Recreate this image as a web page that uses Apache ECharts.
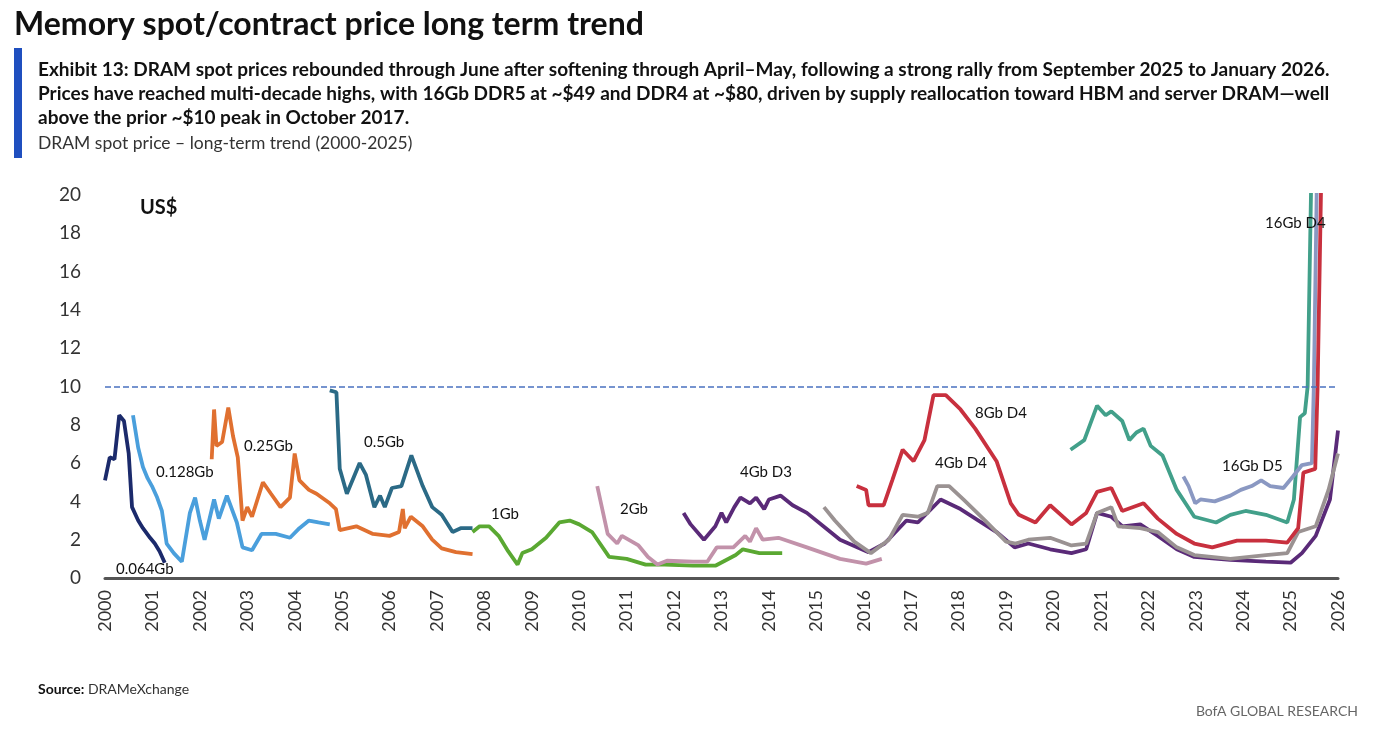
<!DOCTYPE html>
<html>
<head>
<meta charset="utf-8">
<script src="https://cdn.jsdelivr.net/npm/echarts@6/dist/echarts.min.js"></script>
<style>
  html, body { margin: 0; padding: 0; background: #fff; }
  #chart { width: 1376px; height: 742px; }
</style>
</head>
<body>
<div id="chart"></div>
<script>
// ---- data: [year, US$] ----
const gb0064 = [[2000.0,5.1],[2000.1,6.3],[2000.2,6.2],[2000.3,8.5],[2000.4,8.2],[2000.5,6.5],[2000.57,3.7],[2000.7,3.0],[2000.8,2.6],[2000.95,2.1],[2001.05,1.8],[2001.15,1.4],[2001.26,0.8]];
const gb0128 = [[2000.59,8.5],[2000.7,6.8],[2000.8,5.8],[2000.9,5.2],[2000.99,4.8],[2001.1,4.2],[2001.2,3.5],[2001.3,1.8],[2001.45,1.3],[2001.62,0.85],[2001.79,3.4],[2001.9,4.2],[2002.0,3.0],[2002.1,2.0],[2002.3,4.1],[2002.4,3.1],[2002.57,4.3],[2002.78,2.9],[2002.9,1.6],[2003.1,1.45],[2003.3,2.3],[2003.6,2.3],[2003.9,2.1],[2004.1,2.6],[2004.3,3.0],[2004.5,2.9],[2004.74,2.8]];
const gb025 = [[2002.25,6.2],[2002.3,8.8],[2002.35,6.9],[2002.47,7.1],[2002.6,8.9],[2002.7,7.4],[2002.8,6.3],[2002.9,3.0],[2003.0,3.7],[2003.1,3.2],[2003.33,5.0],[2003.5,4.4],[2003.7,3.7],[2003.9,4.2],[2004.0,6.5],[2004.1,5.1],[2004.3,4.6],[2004.46,4.4],[2004.74,3.9],[2004.87,3.6],[2004.95,2.5],[2005.3,2.7],[2005.65,2.3],[2006.0,2.2],[2006.2,2.4],[2006.28,3.6],[2006.32,2.6],[2006.45,3.2],[2006.7,2.7],[2006.9,2.0],[2007.1,1.55],[2007.4,1.35],[2007.75,1.25]];
const gb05 = [[2004.74,9.8],[2004.88,9.7],[2004.95,5.7],[2005.1,4.4],[2005.37,6.0],[2005.5,5.4],[2005.68,3.7],[2005.8,4.3],[2005.9,3.7],[2006.05,4.7],[2006.25,4.8],[2006.46,6.4],[2006.7,4.8],[2006.9,3.7],[2007.1,3.3],[2007.33,2.4],[2007.5,2.6],[2007.75,2.6]];
const gb1 = [[2007.75,2.4],[2007.9,2.7],[2008.1,2.7],[2008.3,2.2],[2008.5,1.4],[2008.7,0.7],[2008.8,1.3],[2009.0,1.5],[2009.3,2.1],[2009.58,2.9],[2009.8,3.0],[2010.0,2.8],[2010.27,2.4],[2010.63,1.1],[2011.0,1.0],[2011.4,0.7],[2011.8,0.7],[2012.4,0.65],[2012.88,0.65],[2013.3,1.2],[2013.45,1.5],[2013.8,1.3],[2014.28,1.3]];
const gb2 = [[2010.38,4.8],[2010.6,2.3],[2010.8,1.8],[2010.9,2.2],[2011.25,1.7],[2011.45,1.1],[2011.65,0.7],[2011.85,0.9],[2012.4,0.85],[2012.7,0.85],[2012.9,1.6],[2013.25,1.6],[2013.5,2.2],[2013.6,1.9],[2013.73,2.6],[2013.87,2.0],[2014.2,2.1],[2014.8,1.6],[2015.5,1.0],[2016.05,0.75],[2016.38,1.0]];
const gb4d3 = [[2012.2,3.4],[2012.35,2.8],[2012.63,2.0],[2012.87,2.7],[2013.0,3.4],[2013.1,2.9],[2013.27,3.7],[2013.4,4.2],[2013.6,3.9],[2013.73,4.2],[2013.9,3.6],[2014.0,4.1],[2014.25,4.3],[2014.5,3.8],[2014.8,3.4],[2015.2,2.6],[2015.5,2.0],[2016.1,1.35],[2016.44,1.8],[2016.9,3.0],[2017.14,2.9],[2017.62,4.1],[2018.04,3.6],[2018.42,3.0],[2018.8,2.4],[2019.18,1.6],[2019.47,1.8],[2019.93,1.5],[2020.38,1.3],[2020.69,1.5],[2020.92,3.4],[2021.22,3.2],[2021.45,2.7],[2021.83,2.8],[2022.2,2.2],[2022.6,1.5],[2022.97,1.1],[2023.73,0.95],[2024.48,0.85],[2025.0,0.8],[2025.24,1.3],[2025.53,2.2],[2025.83,4.1],[2026.0,7.7]];
const gb4d4 = [[2015.16,3.7],[2015.39,3.0],[2015.8,1.9],[2016.15,1.3],[2016.53,2.0],[2016.82,3.3],[2017.14,3.2],[2017.35,3.4],[2017.55,4.8],[2017.8,4.8],[2018.1,4.1],[2018.56,3.0],[2019.0,1.9],[2019.2,1.8],[2019.47,2.0],[2019.93,2.1],[2020.38,1.7],[2020.69,1.8],[2020.92,3.4],[2021.22,3.7],[2021.37,2.7],[2021.83,2.6],[2022.2,2.4],[2022.6,1.6],[2022.97,1.2],[2023.73,1.0],[2024.48,1.2],[2024.93,1.3],[2025.16,2.4],[2025.53,2.7],[2025.8,4.6],[2026.0,6.5]];
const gb8d4 = [[2015.85,4.8],[2016.05,4.6],[2016.1,3.8],[2016.42,3.8],[2016.6,5.1],[2016.82,6.7],[2017.05,6.1],[2017.28,7.2],[2017.47,9.55],[2017.73,9.55],[2018.04,8.8],[2018.35,7.8],[2018.8,6.1],[2019.1,3.9],[2019.27,3.3],[2019.62,2.9],[2019.93,3.8],[2020.38,2.8],[2020.69,3.4],[2020.92,4.5],[2021.22,4.7],[2021.45,3.5],[2021.9,3.9],[2022.2,3.1],[2022.6,2.3],[2022.97,1.8],[2023.35,1.6],[2023.87,1.95],[2024.48,1.95],[2024.93,1.85],[2025.16,2.6],[2025.27,5.5],[2025.52,5.7],[2025.57,10],[2025.64,20],[2025.7,30]];
const gb16d4 = [[2020.36,6.7],[2020.65,7.2],[2020.92,9.0],[2021.1,8.5],[2021.22,8.7],[2021.45,8.2],[2021.6,7.2],[2021.75,7.6],[2021.9,7.8],[2022.05,6.9],[2022.3,6.4],[2022.6,4.6],[2022.97,3.2],[2023.43,2.9],[2023.73,3.3],[2024.05,3.5],[2024.48,3.3],[2024.93,2.9],[2025.07,4.1],[2025.2,8.4],[2025.3,8.6],[2025.36,10],[2025.43,20],[2025.5,30]];
const gb16d5 = [[2022.74,5.3],[2022.85,4.8],[2022.99,3.9],[2023.1,4.1],[2023.4,4.0],[2023.73,4.3],[2023.95,4.6],[2024.18,4.8],[2024.38,5.1],[2024.57,4.8],[2024.85,4.7],[2025.05,5.3],[2025.24,5.9],[2025.45,6.0],[2025.49,10],[2025.55,20],[2025.6,30]];

const seriesList = [
  ['0.064Gb', gb0064, '#1b2a6b'],
  ['0.128Gb', gb0128, '#4a9fdc'],
  ['0.25Gb', gb025, '#e07030'],
  ['0.5Gb', gb05, '#2b6a86'],
  ['1Gb', gb1, '#5aa832'],
  ['2Gb', gb2, '#c292aa'],
  ['4Gb D3', gb4d3, '#5a2a78'],
  ['4Gb D4', gb4d4, '#9a9292'],
  ['16Gb D4', gb16d4, '#42a08a'],
  ['16Gb D5', gb16d5, '#8a98c2'],
  ['8Gb D4', gb8d4, '#c8303e']
];

// label positions in pixels
const labels = [
  ['0.064Gb', 116, 571], ['0.128Gb', 156, 474], ['0.25Gb', 244, 448], ['0.5Gb', 364, 444],
  ['1Gb', 491, 516], ['2Gb', 620, 511], ['4Gb D3', 740, 474], ['4Gb D4', 935, 465],
  ['8Gb D4', 975, 415], ['16Gb D5', 1222, 468], ['16Gb D4', 1265, 225]
];

const font = 'Lato, "Open Sans", sans-serif';
const chart = echarts.init(document.getElementById('chart'));

let series = seriesList.map(s => ({
  name: s[0], type: 'line', data: s[1], showSymbol: false, clip: true,
  lineStyle: { color: s[2], width: 3.8 }
}));
series[0].markLine = {
  silent: true, symbol: 'none', label: { show: false },
  lineStyle: { color: '#4a72c0', type: 'dashed', width: 1.5 },
  data: [{ yAxis: 10 }]
};

const option = {
  animation: false,
  grid: { left: 105, right: 38, top: 195, bottom: 164 },
  xAxis: {
    type: 'value', min: 2000, max: 2026, interval: 1,
    axisLine: { lineStyle: { color: '#555', width: 3 } },
    axisTick: { show: false }, splitLine: { show: false },
    axisLabel: { rotate: 90, fontSize: 18, color: '#333', fontFamily: font, margin: 12,
      formatter: v => String(v) }
  },
  yAxis: {
    type: 'value', min: 0, max: 20, interval: 2,
    axisLine: { show: false }, axisTick: { show: false }, splitLine: { show: false },
    axisLabel: { fontSize: 19, color: '#333', fontFamily: font, margin: 24 }
  },
  series: series,
  graphic: [
    { type: 'text', left: 14, top: 9, style: { text: 'Memory spot/contract price long term trend', font: 'bold 32px ' + font, fill: '#111' } },
    { type: 'rect', shape: { x: 14, y: 48, width: 8, height: 110 }, style: { fill: '#1f4fbf' } },
    { type: 'text', left: 38, top: 58, style: { text: 'Exhibit 13: DRAM spot prices rebounded through June after softening through April\u2013May, following a strong rally from September 2025 to January 2026.\nPrices have reached multi-decade highs, with 16Gb DDR5 at ~$49 and DDR4 at ~$80, driven by supply reallocation toward HBM and server DRAM\u2014well\nabove the prior ~$10 peak in October 2017.', font: 'bold 19px ' + font, fill: '#111', lineHeight: 24 } },
    { type: 'text', left: 38, top: 134, style: { text: 'DRAM spot price \u2013 long-term trend (2000-2025)', font: '17.5px ' + font, fill: '#333' } },
    { type: 'text', left: 140, top: 198, style: { text: 'US$', font: 'bold 20px ' + font, fill: '#111' } },
    { type: 'text', left: 38, top: 682, style: { text: '{b|Source:} DRAMeXchange', rich: { b: { font: 'bold 14px ' + font, fill: '#111' } }, font: '14px ' + font, fill: '#333' } },
    { type: 'text', right: 18, top: 704, style: { text: 'BofA GLOBAL RESEARCH', font: '14px ' + font, fill: '#666' } }
  ].concat(labels.map(l => ({
    type: 'text', left: l[1], top: l[2] - 9, z: 100,
    style: { text: l[0], font: '15px ' + font, fill: '#111' }
  })))
};
chart.setOption(option);
</script>
</body>
</html>
